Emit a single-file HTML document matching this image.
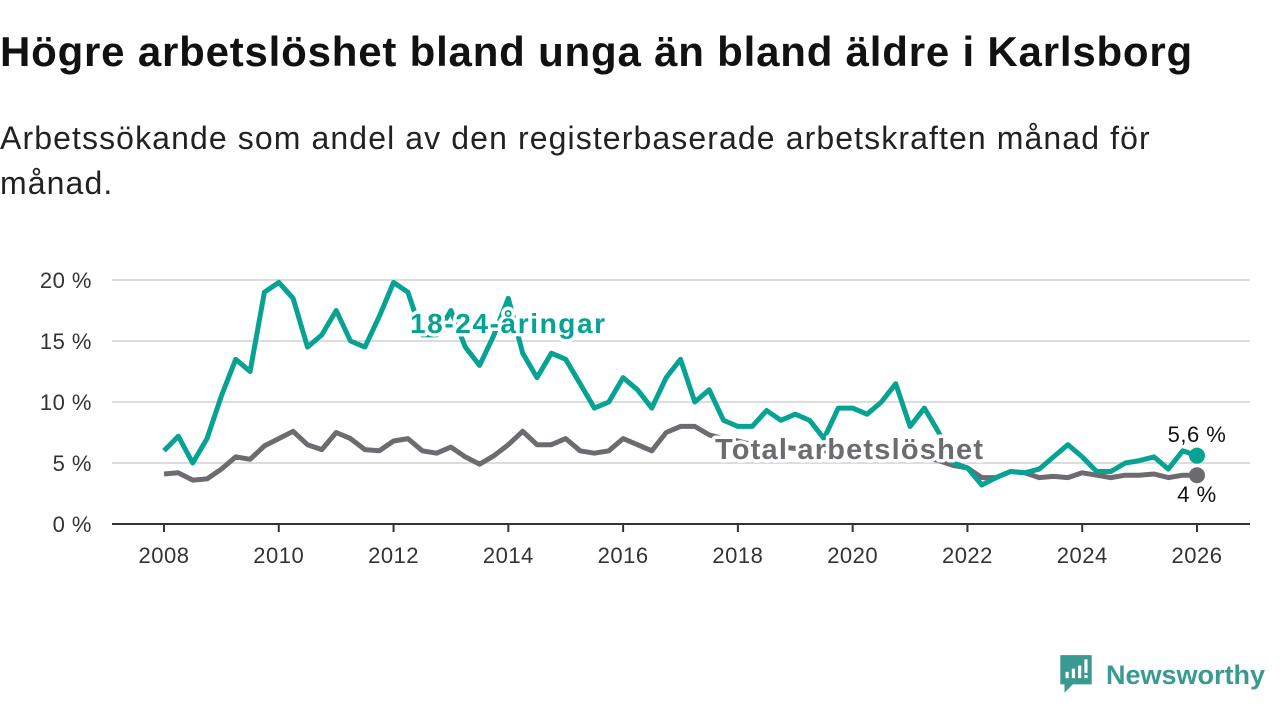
<!DOCTYPE html>
<html><head><meta charset="utf-8">
<style>
body{margin:0;background:#fff;font-family:"Liberation Sans","DejaVu Sans",sans-serif;}
#wrap{position:relative;width:1280px;height:720px;overflow:hidden;}
h1{position:absolute;left:0;top:28px;margin:0;font-size:42px;font-weight:bold;color:#111;letter-spacing:0.8px;white-space:nowrap;}
.sub{position:absolute;left:0;top:116px;margin:0;font-size:32px;line-height:45px;color:#222;width:1200px;letter-spacing:1.1px;}
svg text{font-family:"Liberation Sans","DejaVu Sans",sans-serif;}
</style></head>
<body><div id="wrap">
<h1>Högre arbetslöshet bland unga än bland äldre i Karlsborg</h1>
<p class="sub">Arbetssökande som andel av den registerbaserade arbetskraften månad för månad.</p>
<svg id="chart" width="1280" height="720" style="position:absolute;left:0;top:0"></svg>
<div style="position:absolute;left:1058px;top:653px;display:flex;align-items:center;">
<svg width="36" height="44" viewBox="0 0 34 42"><path d="M2 2h30v28H14l-8 8v-8H2z" fill="#3a9a92"/><rect x="7" y="18" width="3" height="6" fill="#fff"/><rect x="13" y="15" width="3" height="9" fill="#fff"/><rect x="19" y="12" width="3" height="12" fill="#fff"/><rect x="25" y="6" width="3" height="13" fill="#fff"/><rect x="25" y="21" width="3" height="3" fill="#fff"/></svg>
<span style="font-size:27px;color:#3a9a92;margin-left:12px;font-weight:bold;">Newsworthy</span></div>
</div>
<script>
const years=[2008,2010,2012,2014,2016,2018,2020,2022,2024,2026];
const yTicks=[0,5,10,15,20];
const youth=[6.0,7.2,5.0,7.0,10.5,13.5,12.5,19.0,19.8,18.5,14.5,15.5,17.5,15.0,14.5,17.0,19.8,19.0,15.5,15.5,17.5,14.5,13.0,15.5,18.5,14.0,12.0,14.0,13.5,11.5,9.5,10.0,12.0,11.0,9.5,12.0,13.5,10.0,11.0,8.5,8.0,8.0,9.3,8.5,9.0,8.5,7.0,9.5,9.5,9.0,10.0,11.5,8.0,9.5,7.5,5.0,4.6,3.2,3.8,4.3,4.2,4.5,5.5,6.5,5.5,4.3,4.3,5.0,5.2,5.5,4.5,6.0,5.6];
const total=[4.1,4.2,3.6,3.7,4.5,5.5,5.3,6.4,7.0,7.6,6.5,6.1,7.5,7.0,6.1,6.0,6.8,7.0,6.0,5.8,6.3,5.5,4.9,5.6,6.5,7.6,6.5,6.5,7.0,6.0,5.8,6.0,7.0,6.5,6.0,7.5,8.0,8.0,7.3,7.0,6.8,6.5,6.5,6.3,6.2,6.0,6.0,6.0,5.9,6.0,6.2,6.0,5.8,5.5,5.2,4.8,4.6,3.8,3.8,4.3,4.2,3.8,3.9,3.8,4.2,4.0,3.8,4.0,4.0,4.1,3.8,4.0,4.0];
const startYear=2008, step=0.25;
const X=v=>164+(v-2008)*(1197-164)/18;
const Y=v=>524-v*12.2;
const svg=document.getElementById('chart');
const NS='http://www.w3.org/2000/svg';
function mk(t,a,p){const e=document.createElementNS(NS,t);for(const k in a)e.setAttribute(k,a[k]);(p||svg).appendChild(e);return e;}
yTicks.forEach(t=>{
 if(t>0){const l=mk('line',{x1:112,x2:1250,y1:Y(t),y2:Y(t),stroke:'#dcdcdc','stroke-width':2});
 
 }
 const tx=mk('text',{x:92,y:Y(t)+8,'text-anchor':'end','font-size':22,fill:'#333','letter-spacing':0.5});tx.textContent=t+' %';
 
 
});
const ax=mk('line',{x1:112,x2:1250,y1:524,y2:524,stroke:'#333','stroke-width':2});


years.forEach(yr=>{
 mk('line',{x1:X(yr),x2:X(yr),y1:524,y2:532,stroke:'#333','stroke-width':2});
 const tx=mk('text',{x:X(yr),y:563,'text-anchor':'middle','font-size':22,fill:'#333','letter-spacing':0.5});tx.textContent=yr;
 
 
});
function line(arr,col,name){
 const d=arr.map((v,i)=>(i?'L':'M')+X(startYear+i*step).toFixed(1)+' '+Y(v).toFixed(1)).join(' ');
 const p=mk('path',{d:d,fill:'none',stroke:col,'stroke-width':5,'stroke-linejoin':'round'});
 
 
 const n=arr.length-1;
 const c=mk('circle',{cx:X(startYear+n*step),cy:Y(arr[n]),r:8,fill:col});
 
 
}
line(total,'#6d6b70','total-line');
line(youth,'#06a293','youth-line');
function label(txt,x,y,col,size,bold,anchor,name,ls){
 const t=mk('text',{x:x,y:y,'font-size':size,'font-weight':bold?'bold':'normal',fill:col,stroke:'#fff','stroke-width':7,'paint-order':'stroke','stroke-linejoin':'round','text-anchor':anchor||'start','letter-spacing':ls||0});
 t.textContent=txt;
 
 
}
label('18-24-åringar',410,333,'#06a293',28,true,'start','youth-series-label',1.6);
label('Total arbetslöshet',715,459,'#6d6b70',29,true,'start','total-series-label',1.2);
label('5,6 %',1197,442,'#111',22,false,'middle','youth-end-value',0.5);
label('4 %',1197,502,'#111',22,false,'middle','total-end-value',0.5);
</script>
</body></html>
